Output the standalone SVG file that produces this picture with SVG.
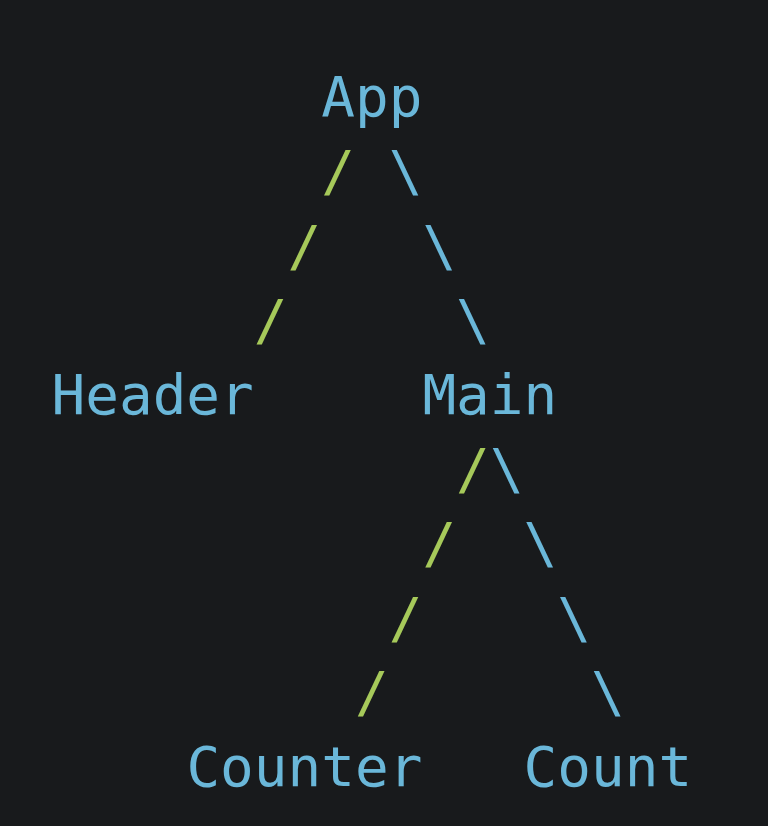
<svg xmlns="http://www.w3.org/2000/svg" width="768" height="826" viewBox="0 0 768 826">
<style>
text{font-family:"DejaVu Sans Mono","Liberation Mono",monospace;font-size:56px}
.n{fill:#6ab7d9}
.g{fill:#a6c95a}
.b{fill:#6ab7d9}
</style>
<rect width="768" height="826" fill="#181a1c"/>
<g id="connectors" transform="translate(2.5,-2)">
<text class="g" x="318.8" y="192.4">/</text>
<text class="b" x="386.2" y="192.4">\</text>
<text class="g" x="285" y="266.8">/</text>
<text class="b" x="419.9" y="266.8">\</text>
<text class="g" x="251.3" y="341.2">/</text>
<text class="b" x="453.6" y="341.2">\</text>
<text class="g" x="453.6" y="490">/</text>
<text class="b" x="487.4" y="490">\</text>
<text class="g" x="419.9" y="564.4">/</text>
<text class="b" x="521.1" y="564.4">\</text>
<text class="g" x="386.2" y="638.8">/</text>
<text class="b" x="554.8" y="638.8">\</text>
<text class="g" x="352.5" y="713.2">/</text>
<text class="b" x="588.5" y="713.2">\</text>
</g>
<g id="app"><text class="n" x="321.3" y="116">App</text></g>
<g id="header"><text class="n" x="51.5" y="413.6">Header</text></g>
<g id="main"><text class="n" x="422.4" y="413.6">Main</text></g>
<g id="counter"><text class="n" x="186.4" y="785.6">Counter</text></g>
<g id="count"><text class="n" x="523.6" y="785.6">Count</text></g>
</svg>
